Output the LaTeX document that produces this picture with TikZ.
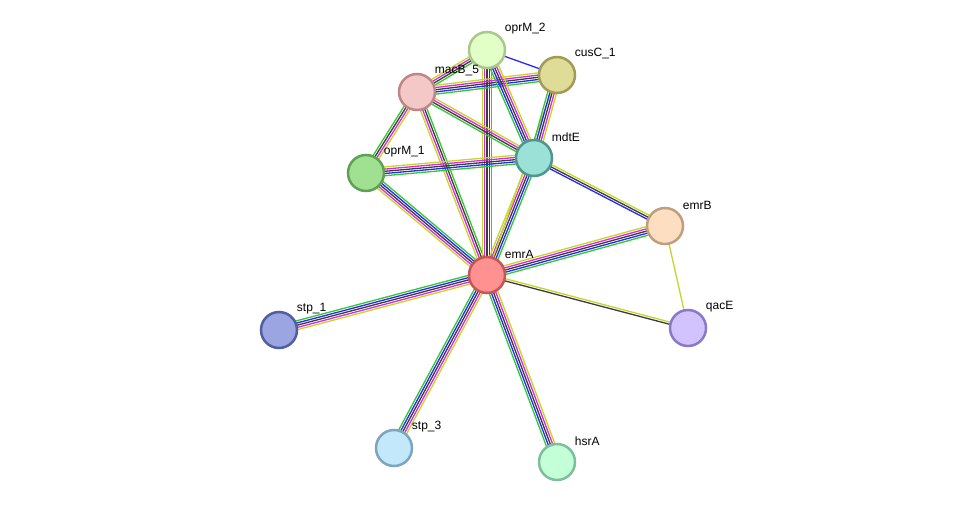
\documentclass[tikz,border=0pt]{standalone}
\usepackage{fontspec}
\setmainfont{Liberation Sans}
\usetikzlibrary{calc, backgrounds}
\definecolor{egreen}{RGB}{50,200,50}
\definecolor{eblue}{RGB}{40,40,245}
\definecolor{eblack}{RGB}{60,60,60}
\definecolor{emagenta}{RGB}{220,40,220}
\definecolor{eyellow}{RGB}{195,215,40}
\tikzset{
  prot/.style={circle, line width=2.5pt, minimum size=36pt, inner sep=0pt},
  lbl/.style={font=\fontsize{12pt}{14pt}\selectfont, anchor=south west,
    inner sep=0pt, label distance=3pt, xshift=2pt},
  edge/.style={line width=1.3pt},
}
% one coloured line per evidence channel, offset sideways
\newcommand{\link}[3]{%
  \foreach \c/\o in #3
    \draw[edge, \c] ($(#1)!\o pt!90:(#2)$) -- ($(#2)!\o pt!-90:(#1)$);
}
\def\fivecol{egreen/-4.4, eblue/-2.2, eblack/0, emagenta/2.2, eyellow/4.4}
\def\fourcol{egreen/-3.3, eblack/-1.1, emagenta/1.1, eyellow/3.3}
\def\threecol{eblue/-2.2, eblack/0, eyellow/2.2}
\def\twocol{eblack/-1.1, eyellow/1.1}
\def\yelcol{eyellow/0}
\def\bluecol{eblue/0}

\begin{document}
\begin{tikzpicture}[x=1pt, y=-1pt]
  \useasboundingbox (0,0) rectangle (976,508);

  % proteins
  \node[prot, draw={rgb,255:red,170;green,200;blue,140}, fill={rgb,255:red,226;green,255;blue,200},
    label={[lbl]45:oprM\_2}] (oprMb) at (487,50) {};
  \node[prot, draw={rgb,255:red,160;green,155;blue,85}, fill={rgb,255:red,222;green,220;blue,150},
    label={[lbl]45:cusC\_1}] (cusC) at (557,75) {};
  \node[prot, draw={rgb,255:red,190;green,135;blue,135}, fill={rgb,255:red,245;green,200;blue,200},
    label={[lbl]45:macB\_5}] (macB) at (417,92) {};
  \node[prot, draw={rgb,255:red,95;green,160;blue,85}, fill={rgb,255:red,160;green,225;blue,145},
    label={[lbl]45:oprM\_1}] (oprMa) at (366,173) {};
  \node[prot, draw={rgb,255:red,80;green,150;blue,140}, fill={rgb,255:red,155;green,225;blue,215},
    label={[lbl]45:mdtE}] (mdtE) at (534,158) {};
  \node[prot, draw={rgb,255:red,190;green,160;blue,125}, fill={rgb,255:red,253;green,222;blue,192},
    label={[lbl]45:emrB}] (emrB) at (665,226) {};
  \node[prot, draw={rgb,255:red,200;green,85;blue,85}, fill={rgb,255:red,255;green,145;blue,145},
    label={[lbl]45:emrA}] (emrA) at (487,275) {};
  \node[prot, draw={rgb,255:red,140;green,120;blue,200}, fill={rgb,255:red,210;green,195;blue,255},
    label={[lbl]45:qacE}] (qacE) at (688,328) {};
  \node[prot, draw={rgb,255:red,80;green,95;blue,160}, fill={rgb,255:red,155;green,165;blue,225},
    label={[lbl]45:stp\_1}] (stpa) at (279,330) {};
  \node[prot, draw={rgb,255:red,125;green,165;blue,190}, fill={rgb,255:red,195;green,232;blue,252},
    label={[lbl]45:stp\_3}] (stpc) at (394,448) {};
  \node[prot, draw={rgb,255:red,125;green,190;blue,155}, fill={rgb,255:red,195;green,255;blue,215},
    label={[lbl]45:hsrA}] (hsrA) at (557,462) {};

  % interactions
  \begin{scope}[on background layer]
    \link{emrA}{stpa}\fivecol
    \link{emrA}{stpc}\fivecol
    \link{emrA}{hsrA}\fivecol
    \link{emrA}{emrB}\fivecol
    \link{emrA}{qacE}\twocol
    \link{emrB}{qacE}\yelcol
    \link{mdtE}{emrB}\threecol
    \link{oprMb}{cusC}\bluecol
    \link{emrA}{oprMa}\fivecol
    \link{emrA}{macB}\fourcol
    \link{emrA}{oprMb}\fivecol
    \link{emrA}{mdtE}\fivecol
    \link{emrA}{cusC}\yelcol
    \link{macB}{oprMb}\fourcol
    \link{macB}{cusC}\fivecol
    \link{macB}{mdtE}\fourcol
    \link{macB}{oprMa}\fourcol
    \link{oprMa}{mdtE}\fivecol
    \link{oprMb}{mdtE}\fivecol
    \link{cusC}{mdtE}\fivecol
  \end{scope}
\end{tikzpicture}
\end{document}
